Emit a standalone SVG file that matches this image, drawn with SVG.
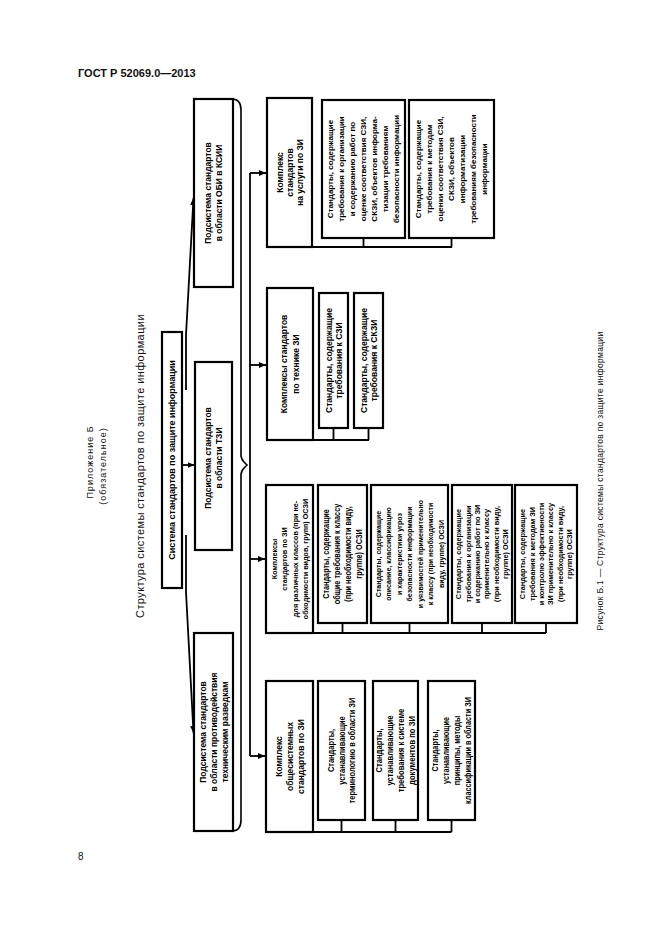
<svg xmlns="http://www.w3.org/2000/svg" width="661" height="936" viewBox="0 0 661 936">
<style>
.box{fill:#fff;stroke:#000;stroke-width:2.2}
.t{font-family:"Liberation Sans",Arial,sans-serif;font-weight:bold;font-size:8.5px;text-anchor:middle;fill:#000}
.s8{font-size:8px}
.s9{font-size:9px}
.ln{fill:none;stroke:#000;stroke-width:1.8}
.br{fill:none;stroke:#000;stroke-width:1.6}
.hd{font-family:"Liberation Sans",Arial,sans-serif;fill:#111}
</style>
<defs>
<marker id="ah" markerUnits="userSpaceOnUse" markerWidth="8" markerHeight="6" refX="7" refY="3" orient="auto"><path d="M0,0 L7,3 L0,6 z" fill="#000"/></marker>
</defs>
<rect width="661" height="936" fill="#fff"/>

<text class="hd" x="78" y="77" font-size="11" font-weight="bold">ГОСТ Р 52069.0—2013</text>
<text class="hd" x="78" y="860" font-size="10">8</text>
<text class="hd" transform="translate(93,462) rotate(-90)" font-size="9" letter-spacing="1" text-anchor="middle">Приложение Б</text>
<text class="hd" transform="translate(106,466) rotate(-90)" font-size="9" letter-spacing="1" text-anchor="middle">(обязательное)</text>
<text class="hd" transform="translate(144,466) rotate(-90)" font-size="11" letter-spacing="0.4" text-anchor="middle">Структура системы стандартов по защите информации</text>
<text class="hd" transform="translate(603,481) rotate(-90)" font-size="8.5" letter-spacing="0.3" text-anchor="middle" fill="#555">Рисунок Б.1 — Структура системы стандартов по защите информации</text>

<g id="connectors">
<path class="ln" d="M186,390 L186,335 L193.5,198" marker-end="url(#ah)"/>
<path class="ln" d="M182,465 H194.5" marker-end="url(#ah)"/>
<path class="ln" d="M186,535 L186,592 L193.5,733" marker-end="url(#ah)"/>
<path class="br" d="M232,99 Q241,99 241,110 V455 Q241,459 244,462 L247,465 L244,468 Q241,471 241,475 V820 Q241,831 232,831"/>
<path class="ln" d="M250,173 V756"/>
<path class="ln" d="M250,173 H266" marker-end="url(#ah)"/>
<path class="ln" d="M250,365 H266" marker-end="url(#ah)"/>
<path class="ln" d="M250,559 H265" marker-end="url(#ah)"/>
<path class="ln" d="M250,756 H265" marker-end="url(#ah)"/>
<path class="ln" d="M312,247 H452 M363.5,238 V247 M451.5,238 V247"/>
<path class="ln" d="M313,440 H369 M333.5,428 V440 M368.5,428 V440"/>
<path class="ln" d="M313,633 H546 M342.5,623 V633 M409.5,623 V633 M482,623 V633 M546,623 V633"/>
<path class="ln" d="M313,832 H451.5 M341.5,820 V832 M395.5,820 V832 M451.5,820 V832"/>
</g>

<g id="main">
<rect class="box" x="162" y="332" width="20" height="256"/>
<text class="t s9" transform="translate(172,460) rotate(-90)"><tspan x="0" y="3.2">Система стандартов по защите информации</tspan></text>
</g>

<g id="sub-obi">
<rect class="box" x="194" y="99" width="39" height="188"/>
<text class="t" transform="translate(213.5,193) rotate(-90)"><tspan x="0" y="-2.8">Подсистема стандартов</tspan><tspan x="0" y="8.7">в области ОБИ в КСИИ</tspan></text>
</g>
<g id="sub-tzi">
<rect class="box" x="195" y="362" width="37" height="188"/>
<text class="t" transform="translate(213.5,458) rotate(-90)"><tspan x="0" y="-2.8">Подсистема стандартов</tspan><tspan x="0" y="8.7">в области ТЗИ</tspan></text>
</g>
<g id="sub-ptr">
<rect class="box" x="194" y="633" width="39" height="198"/>
<text class="t" transform="translate(213.5,732) rotate(-90)"><tspan x="0" y="-8">Подсистема стандартов</tspan><tspan x="0" y="3">в области противодействия</tspan><tspan x="0" y="14">техническим разведкам</tspan></text>
</g>

<g id="c1">
<rect class="box" x="267" y="98" width="45" height="149"/>
<text class="t" transform="translate(289.5,172.5) rotate(-90)"><tspan x="0" y="-7">Комплекс</tspan><tspan x="0" y="3">стандартов</tspan><tspan x="0" y="13">на услуги по ЗИ</tspan></text>
</g>
<g id="c1a">
<rect class="box" x="322" y="100" width="83" height="138"/>
<text class="t s8" transform="translate(363.5,169) rotate(-90)"><tspan x="0" y="-30.2">Стандарты, содержащие</tspan><tspan x="0" y="-19.2">требования к организации</tspan><tspan x="0" y="-8.2">и содержанию работ по</tspan><tspan x="0" y="2.8">оценке соответствия СЗИ,</tspan><tspan x="0" y="13.8">СКЗИ, объектов информа-</tspan><tspan x="0" y="24.8">тизации требованиям</tspan><tspan x="0" y="35.8">безопасности информации</tspan></text>
</g>
<g id="c1b">
<rect class="box" x="409" y="100" width="85" height="138"/>
<text class="t s8" transform="translate(451.5,169) rotate(-90)"><tspan x="0" y="-30.2">Стандарты, содержащие</tspan><tspan x="0" y="-19.2">требования к методам</tspan><tspan x="0" y="-8.2">оценки соответствия СЗИ,</tspan><tspan x="0" y="2.8">СКЗИ, объектов</tspan><tspan x="0" y="13.8">информатизации</tspan><tspan x="0" y="24.8">требованиям безопасности</tspan><tspan x="0" y="35.8">информации</tspan></text>
</g>

<g id="c2">
<rect class="box" x="267" y="288" width="46" height="152"/>
<text class="t" transform="translate(290,364) rotate(-90)"><tspan x="0" y="-3">Комплексы стандартов</tspan><tspan x="0" y="9">по технике ЗИ</tspan></text>
</g>
<g id="c2a">
<rect class="box" x="319" y="293" width="29" height="135"/>
<text class="t s9" transform="translate(333.5,360.5) rotate(-90) scale(0.95,1)"><tspan x="0" y="-2">Стандарты, содержащие</tspan><tspan x="0" y="8.5">требования к СЗИ</tspan></text>
</g>
<g id="c2b">
<rect class="box" x="354" y="293" width="29" height="135"/>
<text class="t s9" transform="translate(368.5,360.5) rotate(-90) scale(0.95,1)"><tspan x="0" y="-2">Стандарты, содержащие</tspan><tspan x="0" y="8.5">требования к СКЗИ</tspan></text>
</g>

<g id="c3">
<rect class="box" x="266" y="485" width="47" height="148"/>
<text class="t s8" transform="translate(289.5,559) rotate(-90) scale(0.9,1)"><tspan x="0" y="-12.9">Комплексы</tspan><tspan x="0" y="-2.4">стандартов по ЗИ</tspan><tspan x="0" y="8.1">для различных классов (при не-</tspan><tspan x="0" y="18.6">обходимости видов, групп) ОСЗИ</tspan></text>
</g>
<g id="c3a">
<rect class="box" x="318" y="485" width="49" height="138"/>
<text class="t" transform="translate(342.5,554) rotate(-90) scale(0.86,1)"><tspan x="0" y="-13.5">Стандарты, содержащие</tspan><tspan x="0" y="-2.5">общие требования к классу</tspan><tspan x="0" y="8.5">(при необходимости виду,</tspan><tspan x="0" y="19.5">группе) ОСЗИ</tspan></text>
</g>
<g id="c3b">
<rect class="box" x="371" y="485" width="77" height="138"/>
<text class="t s8" transform="translate(409.5,554) rotate(-90) scale(0.88,1)"><tspan x="0" y="-28.7">Стандарты, содержащие</tspan><tspan x="0" y="-18.2">описание, классификацию</tspan><tspan x="0" y="-7.7">и характеристики угроз</tspan><tspan x="0" y="2.8">безопасности информации</tspan><tspan x="0" y="13.3">и уязвимостей применительно</tspan><tspan x="0" y="23.8">к классу (при необходимости</tspan><tspan x="0" y="34.3">виду, группе) ОСЗИ</tspan></text>
</g>
<g id="c3c">
<rect class="box" x="452" y="485" width="60" height="138"/>
<text class="t s8" transform="translate(482,554) rotate(-90) scale(0.92,1)"><tspan x="0" y="-21">Стандарты, содержащие</tspan><tspan x="0" y="-11.5">требования к организации</tspan><tspan x="0" y="-2">и содержанию работ по ЗИ</tspan><tspan x="0" y="7.5">применительно к классу</tspan><tspan x="0" y="17">(при необходимости виду,</tspan><tspan x="0" y="26.5">группе) ОСЗИ</tspan></text>
</g>
<g id="c3d">
<rect class="box" x="515" y="485" width="62" height="138"/>
<text class="t s8" transform="translate(546,554) rotate(-90) scale(0.92,1)"><tspan x="0" y="-21">Стандарты, содержащие</tspan><tspan x="0" y="-11.5">требования к методам ЗИ</tspan><tspan x="0" y="-2">и контролю эффективности</tspan><tspan x="0" y="7.5">ЗИ применительно к классу</tspan><tspan x="0" y="17">(при необходимости виду,</tspan><tspan x="0" y="26.5">группе) ОСЗИ</tspan></text>
</g>

<g id="c4">
<rect class="box" x="266" y="681" width="47" height="151"/>
<text class="t" transform="translate(289.5,756.5) rotate(-90)"><tspan x="0" y="-8">Комплекс</tspan><tspan x="0" y="3">общесистемных</tspan><tspan x="0" y="14">стандартов по ЗИ</tspan></text>
</g>
<g id="c4a">
<rect class="box" x="318" y="681" width="47" height="139"/>
<text class="t" transform="translate(341.5,750.5) rotate(-90) scale(0.88,1)"><tspan x="0" y="-8">Стандарты,</tspan><tspan x="0" y="3">устанавливающие</tspan><tspan x="0" y="14">терминологию в области ЗИ</tspan></text>
</g>
<g id="c4b">
<rect class="box" x="373" y="681" width="45" height="139"/>
<text class="t" transform="translate(395.5,750.5) rotate(-90) scale(0.9,1)"><tspan x="0" y="-13.5">Стандарты,</tspan><tspan x="0" y="-2.5">устанавливающие</tspan><tspan x="0" y="8.5">требования к системе</tspan><tspan x="0" y="19.5">документов по ЗИ</tspan></text>
</g>
<g id="c4c">
<rect class="box" x="428" y="681" width="47" height="139"/>
<text class="t" transform="translate(451.5,750.5) rotate(-90) scale(0.86,1)"><tspan x="0" y="-13.5">Стандарты,</tspan><tspan x="0" y="-2.5">устанавливающие</tspan><tspan x="0" y="8.5">принципы, методы</tspan><tspan x="0" y="19.5">классификации в области ЗИ</tspan></text>
</g>
</svg>
